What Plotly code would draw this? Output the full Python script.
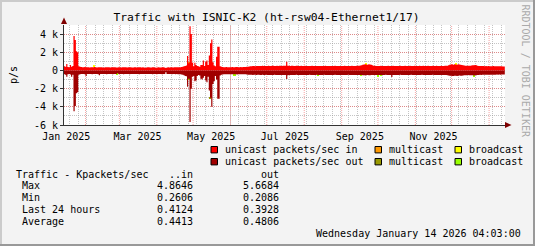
import plotly.graph_objects as go
from datetime import datetime, timedelta

# ---------------- data (kpackets/sec, one value per day from 2025-01-14) ----------------
START_DAY = "2025-01-14"
RANGE_START = "2025-01-14 04:03:00"
RANGE_END = "2026-01-14 04:03:00"

unicast_in = [
    0.45, 0.40, 0.70, 0.38, 0.35, 0.60, 0.42, 0.50, 3.80, 3.35,
    2.10, 2.00, 0.45, 0.40, 0.38, 0.36, 0.35, 0.37, 0.34, 0.36,
    0.35, 0.33, 0.34, 0.36, 0.35, 0.38, 0.34, 0.33, 0.35, 0.34,
    0.36, 0.35, 0.33, 0.32, 0.34, 0.35, 0.36, 0.34, 0.33, 0.35,
    0.34, 0.36, 0.35, 0.33, 0.32, 0.34, 0.35, 0.33, 0.34, 0.36,
    0.35, 0.34, 0.33, 0.35, 0.36, 0.34, 0.32, 0.33, 0.35, 0.34,
    0.33, 0.34, 0.36, 0.35, 0.33, 0.34, 0.32, 0.31, 0.33, 0.34,
    0.35, 0.33, 0.32, 0.34, 0.35, 0.33, 0.31, 0.32, 0.34, 0.33,
    0.32, 0.34, 0.35, 0.33, 0.26, 0.32, 0.34, 0.33, 0.35, 0.34,
    0.33, 0.35, 0.34, 0.36, 0.35, 0.34, 0.36, 0.38, 0.40, 0.45,
    0.48, 0.55, 1.60, 0.80, 4.86, 4.00, 0.85, 0.45, 0.85, 0.60,
    0.50, 0.45, 0.42, 0.60, 0.60, 1.10, 0.50, 0.95, 1.10, 0.60,
    1.65, 3.00, 3.40, 0.90, 0.55, 0.45, 1.50, 2.60, 2.60, 0.45,
    0.40, 0.38, 0.36, 0.35, 0.37, 0.36, 0.35, 0.34, 0.36, 0.37,
    0.36, 0.35, 0.37, 0.38, 0.36, 0.35, 0.37, 0.36, 0.38, 0.37,
    0.38, 0.40, 0.42, 0.44, 0.45, 0.46, 0.48, 0.49, 0.47, 0.48,
    0.49, 0.50, 0.48, 0.49, 0.51, 0.49, 0.48, 0.50, 0.49, 0.51,
    0.50, 0.49, 0.51, 0.52, 0.50, 0.49, 0.51, 0.50, 0.52, 0.51,
    0.50, 0.52, 0.53, 0.51, 0.95, 0.53, 0.51, 0.50, 0.52, 0.51,
    0.50, 0.49, 0.51, 0.52, 0.50, 0.49, 0.51, 0.50, 0.49, 0.51,
    0.50, 0.49, 0.48, 0.50, 0.49, 0.51, 0.50, 0.49, 0.48, 0.50,
    0.49, 0.50, 0.49, 0.48, 0.50, 0.49, 0.51, 0.50, 0.49, 0.50,
    0.49, 0.48, 0.50, 0.49, 0.51, 0.50, 0.49, 0.50, 0.48, 0.49,
    0.50, 0.49, 0.51, 0.50, 0.49, 0.48, 0.50, 0.49, 0.51, 0.50,
    0.49, 0.50, 0.52, 0.51, 0.53, 0.55, 0.58, 0.62, 0.66, 0.68,
    0.66, 0.64, 0.67, 0.65, 0.63, 0.58, 0.53, 0.51, 0.50, 0.49,
    0.50, 0.49, 0.51, 0.50, 0.49, 0.48, 0.50, 0.49, 0.51, 0.50,
    0.49, 0.50, 0.51, 0.49, 0.50, 0.49, 0.48, 0.50, 0.51, 0.49,
    0.50, 0.49, 0.51, 0.50, 0.49, 0.50, 0.51, 0.49, 0.50, 0.49,
    0.51, 0.50, 0.49, 0.50, 0.51, 0.49, 0.50, 0.51, 0.49, 0.50,
    0.49, 0.51, 0.50, 0.49, 0.50, 0.51, 0.49, 0.50, 0.51, 0.50,
    0.49, 0.50, 0.51, 0.49, 0.50, 0.52, 0.51, 0.53, 0.58, 0.62,
    0.65, 0.67, 0.64, 0.68, 0.66, 0.63, 0.67, 0.65, 0.62, 0.59,
    0.57, 0.55, 0.53, 0.52, 0.51, 0.53, 0.52, 0.54, 0.56, 0.58,
    0.60, 0.56, 0.52, 0.50, 0.49, 0.48, 0.49, 0.48, 0.47, 0.48,
    0.47, 0.48, 0.47, 0.46, 0.47, 0.48, 0.47, 0.46, 0.47, 0.46,
    0.45, 0.46, 0.45, 0.44, 0.43,
]

unicast_out = [
    0.42, 0.48, 0.70, 0.42, 0.40, 0.45, 0.70, 0.48, 4.50, 3.90,
    2.50, 2.40, 0.48, 0.42, 0.40, 0.39, 0.40, 0.41, 0.60, 0.40,
    0.39, 0.38, 0.40, 0.41, 0.39, 0.38, 0.40, 0.39, 0.41, 0.52,
    0.40, 0.39, 0.38, 0.40, 0.39, 0.41, 0.40, 0.38, 0.39, 0.40,
    0.41, 0.39, 0.38, 0.40, 0.30, 0.39, 0.40, 0.38, 0.39, 0.41,
    0.40, 0.39, 0.38, 0.40, 0.41, 0.39, 0.38, 0.40, 0.39, 0.38,
    0.40, 0.39, 0.41, 0.40, 0.38, 0.39, 0.40, 0.38, 0.39, 0.40,
    0.39, 0.38, 0.40, 0.41, 0.39, 0.38, 0.40, 0.39, 0.38, 0.40,
    0.39, 0.41, 0.40, 0.38, 0.21, 0.39, 0.40, 0.38, 0.39, 0.41,
    0.40, 0.39, 0.41, 0.40, 0.42, 0.41, 0.43, 0.44, 0.46, 0.52,
    0.60, 0.65, 1.80, 0.90, 5.67, 2.00, 0.70, 0.60, 1.20, 1.10,
    0.60, 0.50, 0.55, 0.90, 1.00, 0.80, 0.60, 1.10, 1.30, 0.70,
    2.20, 3.00, 4.00, 1.50, 1.20, 0.60, 1.00, 3.10, 3.10, 0.55,
    0.46, 0.44, 0.43, 0.42, 0.41, 0.43, 0.42, 0.41, 0.43, 0.42,
    0.41, 0.43, 0.42, 0.44, 0.43, 0.41, 0.42, 0.43, 0.41, 0.42,
    0.43, 0.44, 0.46, 0.47, 0.46, 0.47, 0.49, 0.48, 0.47, 0.49,
    0.48, 0.47, 0.49, 0.50, 0.48, 0.49, 0.50, 0.48, 0.49, 0.51,
    0.50, 0.49, 0.51, 0.50, 0.48, 0.49, 0.50, 0.51, 0.49, 0.50,
    0.49, 0.51, 0.50, 0.49, 0.95, 0.52, 0.50, 0.49, 0.51, 0.50,
    0.49, 0.50, 0.48, 0.51, 0.50, 0.49, 0.50, 0.51, 0.49, 0.50,
    0.51, 0.49, 0.50, 0.48, 0.49, 0.51, 0.50, 0.49, 0.50, 0.48,
    0.49, 0.50, 0.51, 0.49, 0.50, 0.48, 0.49, 0.51, 0.50, 0.49,
    0.50, 0.51, 0.49, 0.50, 0.48, 0.49, 0.50, 0.51, 0.49, 0.50,
    0.49, 0.50, 0.51, 0.49, 0.50, 0.48, 0.49, 0.51, 0.50, 0.49,
    0.50, 0.49, 0.51, 0.50, 0.49, 0.50, 0.51, 0.52, 0.53, 0.52,
    0.53, 0.51, 0.52, 0.53, 0.51, 0.50, 0.49, 0.50, 0.51, 0.49,
    0.50, 0.49, 0.51, 0.50, 0.49, 0.50, 0.48, 0.49, 0.51, 0.50,
    0.49, 0.72, 0.50, 0.49, 0.51, 0.50, 0.49, 0.50, 0.48, 0.49,
    0.51, 0.50, 0.49, 0.50, 0.51, 0.49, 0.50, 0.48, 0.49, 0.51,
    0.50, 0.49, 0.50, 0.51, 0.49, 0.50, 0.48, 0.49, 0.51, 0.50,
    0.49, 0.50, 0.51, 0.49, 0.50, 0.48, 0.49, 0.51, 0.50, 0.49,
    0.50, 0.49, 0.51, 0.50, 0.49, 0.50, 0.51, 0.53, 0.55, 0.57,
    0.58, 0.60, 0.62, 0.59, 0.57, 0.60, 0.58, 0.56, 0.59, 0.57,
    0.55, 0.54, 0.52, 0.53, 0.51, 0.52, 0.54, 0.53, 0.52, 0.55,
    0.54, 0.52, 0.50, 0.49, 0.48, 0.49, 0.48, 0.47, 0.48, 0.47,
    0.48, 0.47, 0.46, 0.47, 0.48, 0.46, 0.47, 0.46, 0.45, 0.46,
    0.45, 0.46, 0.44, 0.45, 0.44,
]

# sparse small series: (day index, kpackets/sec)
multicast_in_days = [25, 103]
multicast_in_vals = [0.05, 0.08]
broadcast_in_days = [25, 250, 324]
broadcast_in_vals = [0.12, 0.08, 0.10]
multicast_out_days = [121]
multicast_out_vals = [0.05]
broadcast_out_days = [44, 103, 141, 210, 246, 260, 262, 339]
broadcast_out_vals = [0.12, 0.15, 0.10, 0.10, 0.10, 0.12, 0.10, 0.10]

# axis labels / grid
label_dates = ["2025-01-16", "2025-03-16", "2025-05-16", "2025-07-16", "2025-09-16", "2025-11-16"]
label_texts = ["Jan 2025", "Mar 2025", "May 2025", "Jul 2025", "Sep 2025", "Nov 2025"]
month_starts = ["2025-02-01", "2025-03-01", "2025-04-01", "2025-05-01", "2025-06-01", "2025-07-01",
                "2025-08-01", "2025-09-01", "2025-10-01", "2025-11-01", "2025-12-01", "2026-01-01"]
y_tickvals = [-6, -4, -2, 0, 2, 4]
y_ticktext = ["-6 k", "-4 k", "-2 k", "0", "2 k", "4 k"]

stat_labels = ["Max", "Min", "Last 24 hours", "Average"]
stat_in = ["4.8646", "0.2606", "0.4124", "0.4413"]
stat_out = ["5.6684", "0.2086", "0.3928", "0.4806"]

TITLE = "Traffic with ISNIC-K2 (ht-rsw04-Ethernet1/17)"
TIMESTAMP = "Wednesday January 14 2026 04:03:00"

# ---------------- styling ----------------
C_IN, C_OUT = "#FF0000", "#A00000"
C_MC_IN, C_MC_OUT = "#FF9900", "#999900"
C_BC_IN, C_BC_OUT = "#FFFF00", "#99FF00"
FONT = "DejaVu Sans Mono"
W_FIG, H_FIG = 535, 246
L, T, PW, PH = 64, 25, 441, 100

def px(x):
    return (x - L) / PW

def py(y):
    return (T + PH - y) / PH

n = len(unicast_in)
assert n == len(unicast_out) == 365, (len(unicast_in), len(unicast_out))
d0 = datetime.fromisoformat(START_DAY)
# day boundaries: value i spans [edge i, edge i+1]
edges = [d0 + timedelta(days=i) for i in range(n + 1)]
centers = [d0 + timedelta(days=i, hours=12) for i in range(n)]
DAY_MS = 86400000

fig = go.Figure()
# unicast as step areas (RRD AREA)
fig.add_trace(go.Scatter(x=edges, y=unicast_in + unicast_in[-1:], mode="lines",
                         line=dict(shape="hv", width=0, color=C_IN), fill="tozeroy", fillcolor=C_IN,
                         showlegend=False, hoverinfo="skip"))
fig.add_trace(go.Scatter(x=edges, y=[-v for v in unicast_out + unicast_out[-1:]], mode="lines",
                         line=dict(shape="hv", width=0, color=C_OUT), fill="tozeroy", fillcolor=C_OUT,
                         showlegend=False, hoverinfo="skip"))

# sparse small series stacked on the unicast value (STACK)
in_top = list(unicast_in)
out_top = [-v for v in unicast_out]
for days, vals, col, sign in [
    (multicast_in_days, multicast_in_vals, C_MC_IN, 1),
    (broadcast_in_days, broadcast_in_vals, C_BC_IN, 1),
    (multicast_out_days, multicast_out_vals, C_MC_OUT, -1),
    (broadcast_out_days, broadcast_out_vals, C_BC_OUT, -1),
]:
    top = in_top if sign > 0 else out_top
    bases = [top[d] for d in days]
    fig.add_trace(go.Bar(x=[centers[d] for d in days], y=[sign * v for v in vals], base=bases,
                         width=DAY_MS * 1.4, marker=dict(color=col, line=dict(width=0)),
                         showlegend=False, hoverinfo="skip"))
    for d, v in zip(days, vals):
        top[d] += sign * v

GRID_MINOR = "rgba(150,150,150,0.55)"
GRID_MAJOR = "rgba(240,90,90,0.55)"

fig.update_layout(
    width=W_FIG, height=H_FIG,
    margin=dict(l=L, r=W_FIG - L - PW, t=T, b=H_FIG - T - PH, autoexpand=False),
    paper_bgcolor="#F3F3F3", plot_bgcolor="#FFFFFF",
    barmode="overlay", bargap=0,
    font=dict(family=FONT, size=10, color="#000000"),
    title=dict(text=TITLE, x=266.5 / W_FIG, y=1 - 17 / H_FIG, xanchor="center", yanchor="middle",
               font=dict(family=FONT, size=11.3, color="#000000")),
    xaxis=dict(type="date", range=[RANGE_START, RANGE_END], tickmode="array",
               tickvals=label_dates, ticktext=label_texts, showgrid=False,
               showline=True, linecolor="#333333", linewidth=1, ticks="", zeroline=False,
               tickfont=dict(family=FONT, size=10), ticklabelstandoff=2,
               minor=dict(dtick=7 * DAY_MS, tick0="2025-01-19", showgrid=True,
                          gridcolor=GRID_MINOR, griddash="1px,1px", gridwidth=1)),
    yaxis=dict(range=[-6, 5], tickmode="array", tickvals=y_tickvals, ticktext=y_ticktext,
               showgrid=True, gridcolor=GRID_MAJOR, griddash="1px,1px", gridwidth=1,
               zeroline=False, showline=True, linecolor="#333333", linewidth=1,
               ticks="outside", ticklen=3, tickcolor="#333333",
               tickfont=dict(family=FONT, size=10),
               title=dict(text="p/s", standoff=14, font=dict(family=FONT, size=10)),
               minor=dict(dtick=1, showgrid=True, gridcolor=GRID_MINOR, griddash="1px,1px", gridwidth=1)),
    showlegend=False,
)

shapes = []
# monthly major grid
for m in month_starts:
    shapes.append(dict(type="line", xref="x", yref="paper", x0=m, x1=m, y0=0, y1=1, layer="below",
                       line=dict(color=GRID_MAJOR, width=1, dash="1px,1px")))
# axis arrows
shapes.append(dict(type="path", xref="paper", yref="paper", layer="above",
                   path=f"M {px(61)} {py(24)} L {px(67)} {py(24)} L {px(64)} {py(17.5)} Z",
                   fillcolor="#7F0000", line=dict(width=0)))
shapes.append(dict(type="path", xref="paper", yref="paper", layer="above",
                   path=f"M {px(505)} {py(122)} L {px(505)} {py(128)} L {px(511.5)} {py(125)} Z",
                   fillcolor="#7F0000", line=dict(width=0)))
# frame shading
shapes += [
    dict(type="rect", xref="paper", yref="paper", x0=px(0), x1=px(W_FIG), y0=py(0), y1=py(2),
         fillcolor="#CBCBCB", line=dict(width=0)),
    dict(type="rect", xref="paper", yref="paper", x0=px(0), x1=px(2), y0=py(0), y1=py(H_FIG),
         fillcolor="#CBCBCB", line=dict(width=0)),
    dict(type="rect", xref="paper", yref="paper", x0=px(0), x1=px(W_FIG), y0=py(H_FIG - 2), y1=py(H_FIG),
         fillcolor="#999999", line=dict(width=0)),
    dict(type="rect", xref="paper", yref="paper", x0=px(W_FIG - 2), x1=px(W_FIG), y0=py(0), y1=py(H_FIG),
         fillcolor="#999999", line=dict(width=0)),
]

# legend swatches
legend_items = [
    (211, 0, C_IN, "unicast packets/sec in"),
    (211, 1, C_OUT, "unicast packets/sec out"),
    (375, 0, C_MC_IN, "multicast"),
    (375, 1, C_MC_OUT, "multicast"),
    (455, 0, C_BC_IN, "broadcast"),
    (455, 1, C_BC_OUT, "broadcast"),
]
ROW_Y = [149.7, 161.7]
annotations = []
for x0, row, col, txt in legend_items:
    yc = ROW_Y[row]
    shapes.append(dict(type="rect", xref="paper", yref="paper", x0=px(x0), x1=px(x0 + 6.5),
                       y0=py(yc - 3.2), y1=py(yc + 3.2), fillcolor=col, line=dict(color="#000000", width=1)))
    annotations.append(dict(text=txt, x=px(x0 + 11.5), y=py(yc), xref="paper", yref="paper",
                            xanchor="left", yanchor="middle", showarrow=False,
                            font=dict(family=FONT, size=10)))

# stats table
HDR_Y = 174
annotations.append(dict(text="Traffic - Kpackets/sec", x=px(14), y=py(HDR_Y), xref="paper", yref="paper",
                        xanchor="left", yanchor="middle", showarrow=False))
annotations.append(dict(text="..in", x=px(195), y=py(HDR_Y), xref="paper", yref="paper",
                        xanchor="right", yanchor="middle", showarrow=False))
annotations.append(dict(text="out", x=px(280.5), y=py(HDR_Y), xref="paper", yref="paper",
                        xanchor="right", yanchor="middle", showarrow=False))
for i, (lab, vi, vo) in enumerate(zip(stat_labels, stat_in, stat_out)):
    yy = HDR_Y + 11.8 * (i + 1)
    annotations.append(dict(text=lab, x=px(20), y=py(yy), xref="paper", yref="paper",
                            xanchor="left", yanchor="middle", showarrow=False))
    annotations.append(dict(text=vi, x=px(195), y=py(yy), xref="paper", yref="paper",
                            xanchor="right", yanchor="middle", showarrow=False))
    annotations.append(dict(text=vo, x=px(281), y=py(yy), xref="paper", yref="paper",
                            xanchor="right", yanchor="middle", showarrow=False))
annotations.append(dict(text=TIMESTAMP, x=px(523), y=py(233.7), xref="paper", yref="paper",
                        xanchor="right", yanchor="middle", showarrow=False))
# watermark
annotations.append(dict(text="RRDTOOL / TOBI OETIKER", x=px(525.5), y=py(71), xref="paper", yref="paper",
                        xanchor="center", yanchor="middle", textangle=90, showarrow=False,
                        font=dict(family=FONT, size=10, color="#AAAAAA")))

fig.update_layout(shapes=shapes, annotations=annotations)
fig.write_html("out.html")
